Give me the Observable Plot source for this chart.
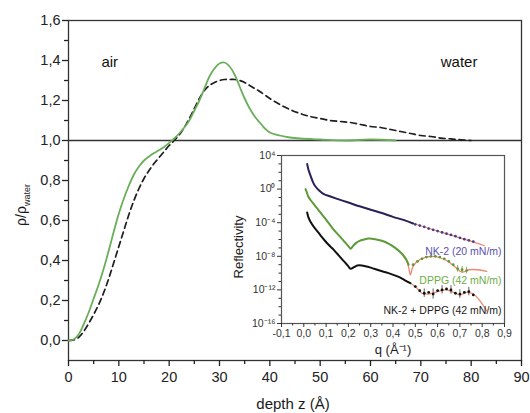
<!DOCTYPE html>
<html><head><meta charset="utf-8">
<script src="https://cdn.jsdelivr.net/npm/d3@7"></script>
<script src="https://cdn.jsdelivr.net/npm/@observablehq/plot@0.6"></script>
<style>
body{margin:0;background:#fff;}
#wrap{position:relative;width:530px;height:413px;}
#wrap svg{position:absolute;overflow:visible;}
</style></head><body><div id="wrap"></div>
<script>
// ---------- main chart data ----------
const zGreen   = [0,1,2,3,4,5,6,7,8,9,10,11,12,13,14,15,16,17,18,19,20,21,22,23,24,25,26,27,28,29,30,31,32,33,34,35,36,37,38,39,40,42,44,46,50,55,60,65];
const rhoGreen = [0,0.005,0.03,0.08,0.14,0.21,0.28,0.36,0.45,0.545,0.635,0.71,0.775,0.83,0.87,0.9,0.92,0.937,0.952,0.968,0.988,1.01,1.035,1.065,1.1,1.15,1.2,1.26,1.32,1.36,1.385,1.39,1.37,1.33,1.27,1.21,1.16,1.12,1.09,1.06,1.04,1.025,1.015,1.01,1.005,1.0,1.005,1.0];
const zDash    = [0,1,2,3,4,5,6,7,8,9,10,11,12,13,14,15,16,17,18,19,20,21,22,23,24,25,26,27,28,29,30,31,32,33,34,35,36,37,38,40,42,44,46,48,50,52,54,56,58,60,62,64,66,68,70,72,74,76,78,80];
const rhoDash  = [0,0.003,0.015,0.045,0.085,0.13,0.18,0.24,0.31,0.39,0.47,0.55,0.63,0.7,0.76,0.81,0.85,0.885,0.915,0.945,0.975,1.0,1.028,1.065,1.11,1.16,1.21,1.25,1.275,1.29,1.3,1.305,1.305,1.305,1.3,1.29,1.275,1.26,1.245,1.21,1.18,1.155,1.135,1.12,1.11,1.1,1.095,1.09,1.08,1.07,1.065,1.055,1.045,1.035,1.025,1.02,1.012,1.008,1.003,1.0];
const xTicks = [0,10,20,30,40,50,60,70,80,90];
const xMinor = [5,15,25,35,45,55,65,75,85];
const yTicks = [0,0.2,0.4,0.6,0.8,1.0,1.2,1.4,1.6];
const yMinor = [0.1,0.3,0.5,0.7,0.9,1.1,1.3,1.5];
const regionNames = ["air","water"];
const regionZ = [8.2,77.6];
const regionRho = [1.39,1.39];

// ---------- inset data ----------
const nkQ   = [0.015,0.02,0.03,0.04,0.05,0.07,0.09,0.12,0.16,0.2,0.25,0.3,0.35,0.4,0.45,0.49];
const nkR   = [1e3,2.5e2,4e1,8,2.5,0.63,0.25,0.13,0.056,0.025,9e-3,3.5e-3,1.4e-3,5e-4,2e-4,8e-5];
const nkDotQ = [0.50,0.52,0.54,0.56,0.58,0.60,0.62,0.64,0.66,0.68,0.70,0.72,0.74,0.76];
const nkDotR = [6.3e-5,4.5e-5,3.2e-5,2e-5,1.4e-5,1e-5,7e-6,5e-6,3.5e-6,2.5e-6,1.6e-6,1.1e-6,8e-7,5.6e-7];
const nkFitQ = [0.45,0.5,0.6,0.7,0.76,0.81];
const nkFitR = [2e-4,7e-5,1e-5,1.6e-6,5e-7,1.8e-7];

const dpQ   = [0.008,0.015,0.02,0.03,0.045,0.06,0.075,0.09,0.11,0.13,0.15,0.17,0.19,0.2,0.21,0.22,0.235,0.25,0.27,0.29,0.32,0.35,0.38,0.41,0.44,0.46,0.47];
const dpR   = [1,0.32,0.13,0.05,0.016,5e-3,1.6e-3,5e-4,1e-4,2e-5,5e-6,1.3e-6,3.2e-7,1.6e-7,8e-8,1.6e-7,4e-7,7e-7,1e-6,1.3e-6,1.1e-6,7e-7,3.2e-7,1e-7,2e-8,4e-9,1e-9];
const dpDotQ = [0.49,0.51,0.53,0.55,0.57,0.59,0.61,0.63,0.65,0.67,0.69,0.71,0.73];
const dpDotR = [1e-9,2.5e-9,5e-9,8e-9,1e-8,1e-8,8e-9,5e-9,2.5e-9,1e-9,3.2e-10,2.5e-10,2e-10];
const dpFitQ = [0.44,0.46,0.47,0.478,0.49,0.52,0.58,0.64,0.68,0.71,0.74,0.78,0.82];
const dpFitR = [2e-8,3.2e-9,5e-10,6.3e-11,6.3e-10,4e-9,1e-8,3.2e-9,5e-10,1.3e-10,2.5e-10,2.5e-10,1.6e-10];
const dpErrQ = [0.69,0.71,0.73];
const dpErrLo = [1.3e-10,1e-10,8e-11];
const dpErrHi = [8e-10,6e-10,5e-10];

const bkQ   = [0.015,0.02,0.03,0.045,0.06,0.075,0.09,0.11,0.13,0.15,0.17,0.19,0.2,0.21,0.225,0.24,0.26,0.3,0.34,0.38,0.42,0.45,0.478];
const bkR   = [1.6e-3,5e-4,1.3e-4,3.2e-5,1e-5,3.2e-6,1e-6,2.5e-7,8e-8,2e-8,5e-9,1.3e-9,6.3e-10,3.2e-10,5e-10,8e-10,8e-10,4.5e-10,2e-10,1e-10,4e-11,1.6e-11,6.3e-12];
const bkDotQ = [0.50,0.52,0.54,0.56,0.58,0.60,0.62,0.64,0.66,0.68,0.70,0.72,0.74,0.76];
const bkDotR = [2.5e-12,8e-13,4e-13,5e-13,3.2e-13,8e-13,1e-12,1.3e-12,1e-12,4e-13,3.2e-13,5e-13,6.3e-13,2.5e-13];
const bkFitQ = [0.45,0.5,0.53,0.56,0.6,0.64,0.68,0.7,0.73,0.76,0.79,0.82];
const bkFitR = [1.6e-11,2.5e-12,4e-13,3.2e-13,6.3e-13,1e-12,4e-13,2.5e-13,5e-13,3.2e-13,5e-14,3.2e-15];
const bkErrQ = [0.54,0.58,0.62,0.66,0.7,0.74];
const bkErrLo = [1.3e-13,8e-14,3.2e-13,3.2e-13,1e-13,2e-13];
const bkErrHi = [1.3e-12,1.3e-12,3.2e-12,3.2e-12,1e-12,2e-12];

const qTicks = [-0.1,0,0.1,0.2,0.3,0.4,0.5,0.6,0.7,0.8,0.9];
const qMinor = [-0.05,0.05,0.15,0.25,0.35,0.45,0.55,0.65,0.75,0.85];
const rTicks = [1e4,1,1e-4,1e-8,1e-12,1e-16];
const rMinor = [1e3,1e2,1e1,1e-1,1e-2,1e-3,1e-5,1e-6,1e-7,1e-9,1e-10,1e-11,1e-13,1e-14,1e-15];
const seriesNames = ["NK-2 (20 mN/m)","DPPG (42 mN/m)","NK-2 + DPPG (42 mN/m)"];
const labelQ = [0.887,0.887,0.887];
const labelR = [3.7e-8,1.3e-11,3.5e-15];
const labelColors = ["#5b4fb5","#6cae45","#1a1a1a"];

// ---------- build ----------
const FONT = '"Liberation Sans", Arial, Helvetica, sans-serif';
const zip = (a, b) => a.map((v, i) => ({x: v, y: b[i]}));
const comma = d => d.toFixed(1).replace(".", ",");
const SUP = {"0":"⁰","1":"¹","2":"²","3":"³","4":"⁴","5":"⁵","6":"⁶","7":"⁷","8":"⁸","9":"⁹","-":"⁻"};
const pow10 = d => "10" + String(Math.round(Math.log10(d))).split("").map(c => SUP[c]).join("");

const main = Plot.plot({
  width: 530, height: 413,
  marginLeft: 68, marginRight: 9, marginTop: 20, marginBottom: 53,
  style: {fontFamily: FONT, fontSize: "14.5px", color: "#222", background: "transparent"},
  x: {domain: [0, 90], label: null},
  y: {domain: [-0.1, 1.6], label: null},
  marks: [
    Plot.frame({stroke: "#333", strokeWidth: 1.3}),
    Plot.ruleY([1], {stroke: "#333", strokeWidth: 1.3}),
    Plot.axisX(xMinor, {tickSize: 4, tickFormat: () => "", label: null, strokeWidth: 1.3}),
    Plot.axisX(xTicks, {tickSize: 6, tickPadding: 5, tickFormat: d => String(d), label: null, strokeWidth: 1.3}),
    Plot.axisY(yMinor, {tickSize: 4, tickFormat: () => "", label: null, strokeWidth: 1.3}),
    Plot.axisY(yTicks, {tickSize: 6, tickPadding: 2, tickFormat: comma, label: null, strokeWidth: 1.3}),
    Plot.line(zip(zDash, rhoDash), {x: "x", y: "y", stroke: "#1e1e1e", strokeWidth: 1.7, strokeDasharray: "6,4", curve: "catmull-rom"}),
    Plot.line(zip(zGreen, rhoGreen), {x: "x", y: "y", stroke: "#6aae5a", strokeWidth: 1.8, curve: "catmull-rom"}),
    Plot.text(regionNames.map((t, i) => ({t, x: regionZ[i], y: regionRho[i]})), {x: "x", y: "y", text: "t", fontSize: 15, fill: "#111"})
  ]
});

const inset = Plot.plot({
  width: 300, height: 215,
  marginLeft: 61, marginRight: 16, marginTop: 10, marginBottom: 37,
  style: {fontFamily: FONT, fontSize: "10.5px", color: "#333", background: "transparent"},
  x: {domain: [-0.1, 0.9], label: null},
  y: {type: "log", domain: [1e-16, 1e4], label: null},
  marks: [
    Plot.frame({stroke: "#555", strokeWidth: 1.2}),
    Plot.axisX(qMinor, {tickSize: 2.5, tickFormat: () => "", label: null}),
    Plot.axisX(qTicks, {tickSize: 4, tickPadding: 2, tickFormat: comma, label: null}),
    Plot.axisY(rMinor, {tickSize: 2.5, tickFormat: () => "", label: null}),
    Plot.axisY(rTicks, {tickSize: 4, tickPadding: 2, tickFormat: pow10, label: null}),
    // fits
    Plot.line(zip(nkFitQ, nkFitR), {x: "x", y: "y", stroke: "#ec8a70", strokeWidth: 1.3, curve: "catmull-rom"}),
    Plot.line(zip(dpFitQ, dpFitR), {x: "x", y: "y", stroke: "#ec8a70", strokeWidth: 1.3, curve: "catmull-rom"}),
    Plot.line(zip(bkFitQ, bkFitR), {x: "x", y: "y", stroke: "#ec8a70", strokeWidth: 1.3, curve: "catmull-rom"}),
    // data
    Plot.line(zip(nkQ, nkR), {x: "x", y: "y", stroke: "#2a2058", strokeWidth: 2, curve: "catmull-rom"}),
    Plot.line(zip(dpQ, dpR), {x: "x", y: "y", stroke: "#5e9a38", strokeWidth: 2, curve: "catmull-rom"}),
    Plot.line(zip(bkQ, bkR), {x: "x", y: "y", stroke: "#111", strokeWidth: 2, curve: "catmull-rom"}),
    Plot.ruleX(dpErrQ.map((q, i) => ({q, lo: dpErrLo[i], hi: dpErrHi[i]})), {x: "q", y1: "lo", y2: "hi", stroke: "#5e9a38", strokeWidth: 0.8}),
    Plot.ruleX(bkErrQ.map((q, i) => ({q, lo: bkErrLo[i], hi: bkErrHi[i]})), {x: "q", y1: "lo", y2: "hi", stroke: "#333", strokeWidth: 0.8}),
    Plot.dot(zip(nkDotQ, nkDotR), {x: "x", y: "y", r: 1.4, fill: "#4a3c8a", stroke: "none"}),
    Plot.dot(zip(dpDotQ, dpDotR), {x: "x", y: "y", r: 1.4, fill: "#5e9a38", stroke: "none"}),
    Plot.dot(zip(bkDotQ, bkDotR), {x: "x", y: "y", r: 1.4, fill: "#111", stroke: "none"}),
    ...seriesNames.map((t, i) => Plot.text([{t, x: labelQ[i], y: labelR[i]}], {x: "x", y: "y", text: "t", textAnchor: "end", fill: labelColors[i], fontSize: 10.5}))
  ]
});

const wrap = document.getElementById("wrap");
main.style.left = "0px"; main.style.top = "0px";
inset.style.left = "220px"; inset.style.top = "145px";
wrap.appendChild(main);
wrap.appendChild(inset);

// axis titles
const ms = d3.select(main);
ms.append("text").attr("x", 293).attr("y", 409).attr("text-anchor", "middle")
  .attr("font-family", FONT).attr("font-size", 15).attr("fill", "#1a1a1a").text("depth z (Å)");
const yt = ms.append("text").attr("transform", "translate(26,205) rotate(-90)").attr("text-anchor", "middle")
  .attr("font-family", FONT).attr("font-size", 14).attr("fill", "#1a1a1a");
yt.append("tspan").text("ρ/ρ");
yt.append("tspan").attr("font-size", 9).attr("dy", 4).text("water");

const is = d3.select(inset);
is.append("text").attr("transform", "translate(23,102) rotate(-90)").attr("text-anchor", "middle")
  .attr("font-family", FONT).attr("font-size", 13).attr("fill", "#1a1a1a").text("Reflectivity");
is.append("text").attr("x", 173).attr("y", 209).attr("text-anchor", "middle")
  .attr("font-family", FONT).attr("font-size", 13).attr("fill", "#1a1a1a").text("q (Å⁻¹)");
</script>
</body></html>
